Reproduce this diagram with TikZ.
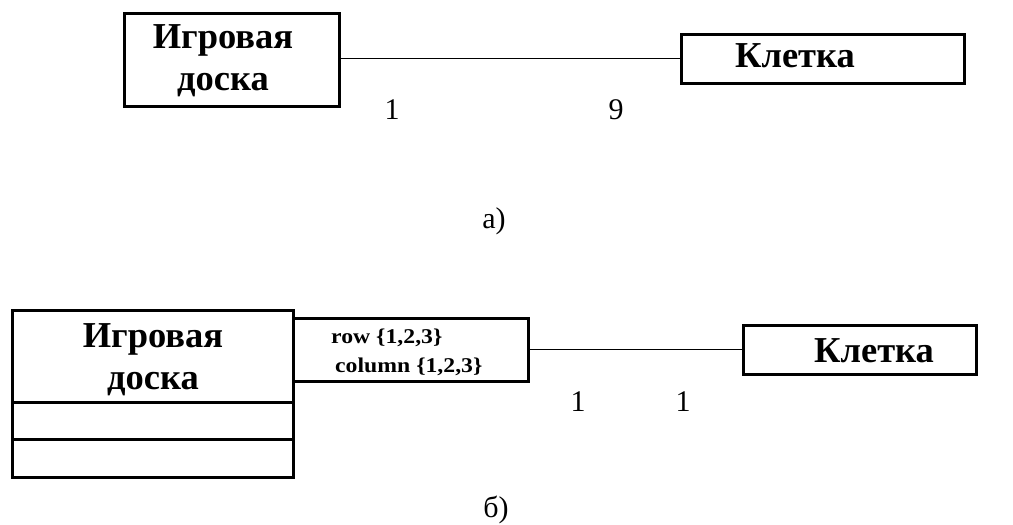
\documentclass[tikz,border=0pt]{standalone}
\usepackage{fontspec}
\setmainfont{Liberation Serif}
\begin{document}
\begin{tikzpicture}[x=1pt,y=-1pt,
  box/.style={draw, line width=3pt, inner sep=0pt, outer sep=0pt},
  link/.style={line width=1.6pt},
  cname/.style={font=\fontsize{36.5}{42}\selectfont\bfseries, align=center, inner sep=0pt},
  qual/.style={font=\fontsize{21}{29}\selectfont\bfseries, align=left, inner sep=0pt, xscale=1.13},
  mult/.style={font=\fontsize{30}{34}\selectfont, inner sep=0pt, anchor=base},
  figlabel/.style={font=\fontsize{30}{34}\selectfont, inner sep=0pt, anchor=base}]
\useasboundingbox (0,0) rectangle (1013,525);
% ---- a) ----
\node[box, minimum width=215pt, minimum height=93pt] (b1) at (231.5,59.5) {};
\node[box, minimum width=283pt, minimum height=49pt] (k1) at (822.5,58.5) {};
\node[cname, anchor=north] (b1t) at (223,24) {Игровая\\доска};
\node[cname, anchor=base] (k1t) at (795,67) {Клетка};
\draw[link] (b1.east |- k1.west) -- (k1.west);
\node[mult] (m1) at (392,119) {1};
\node[mult] (m2) at (616,119) {9};
\node[figlabel] (ca) at (494,228) {а)};
% ---- b) ----
\node[box, minimum width=281pt, minimum height=167pt] (b2) at (152.5,393.5) {};
\draw[box] (b2.west |- 0,402) -- (b2.east |- 0,402);
\draw[box] (b2.west |- 0,439) -- (b2.east |- 0,439);
\node[cname, anchor=north] (b2t) at (153,323) {Игровая\\доска};
\node[box, minimum width=235pt, minimum height=63pt] (q) at (410.5,349.5) {};
\node[qual, anchor=base west] (qt) at (331,372) {row \{1,2,3\}\\\,column \{1,2,3\}};
\node[box, minimum width=233pt, minimum height=49pt] (k2) at (859.5,349.5) {};
\node[cname, anchor=base] (k2t) at (874,362) {Клетка};
\draw[link] (q.east |- k2.west) -- (k2.west);
\node[mult] (m3) at (578,411) {1};
\node[mult] (m4) at (683,411) {1};
\node[figlabel] (cb) at (496,517) {б)};
\end{tikzpicture}
\end{document}
